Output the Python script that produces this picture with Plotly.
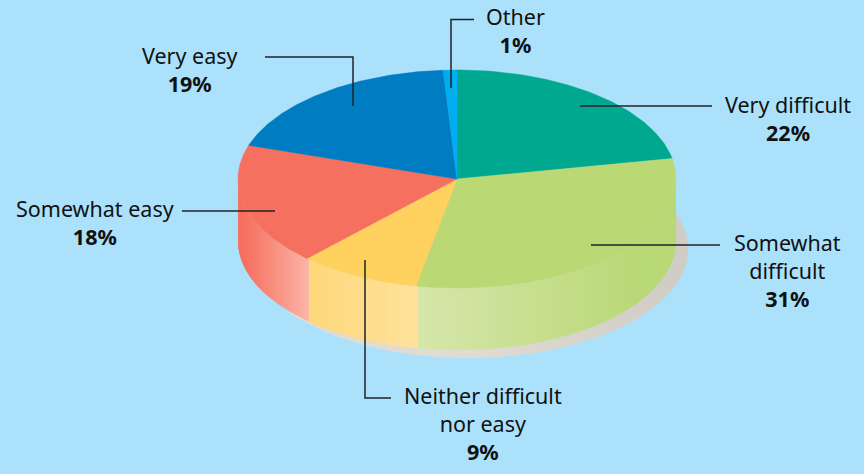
import numpy as np
import plotly.graph_objects as go

# --- data ---
categories = ["Very difficult", "Somewhat difficult", "Neither difficult nor easy",
              "Somewhat easy", "Very easy", "Other"]
values = [22, 31, 9, 18, 19, 1]
top_colors = ["#00A88F", "#BAD874", "#FFD15F", "#F6705F", "#007CC3", "#00AEEF"]

BG = "#ABE1FB"
CX, CY, RX, RY, DEPTH = 457, 179, 219, 109, 62
WALL_SHIFT = 0.011
FONT = "Noto Sans"
TXT = "#111111"


def hex2rgb(h):
    return np.array([int(h[i:i + 2], 16) for i in (1, 3, 5)], float)


def lerp(a, b, t):
    t = min(max(t, 0), 1)
    c = hex2rgb(a) * (1 - t) + hex2rgb(b) * t
    return "rgb(%d,%d,%d)" % tuple(c.round())


def ex(a):
    return CX + RX * np.sin(a)


def ey(a):
    return CY - RY * np.cos(a)


fig = go.Figure()


def poly(x, y, color, w=0):
    fig.add_trace(go.Scatter(x=list(x), y=list(y), mode="lines", fill="toself",
                             fillcolor=color, line=dict(color=color, width=w),
                             hoverinfo="skip", showlegend=False))


# shadow, cut in thin wedges so it can shade from light to darker
SX, SY, SRX, SRY = 468, 249, 220, 109
edges = np.linspace(np.pi * 0.3, np.pi * 1.3, 90)
for a0, a1 in zip(edges[:-1], edges[1:]):
    t = np.linspace(a0, a1 + 0.01, 4)
    xs = SX + SRX * np.sin(t)
    ys = SY - SRY * np.cos(t)
    mid = xs.mean()
    col = lerp("#E0DCD2", "#D0CDC6", (mid - 470) / 210)
    poly(list(xs) + [SX], list(ys) + [SY], col)

# side wall shading, per slice: colour at the left end and at the right end of its span
wall_shade = {
    "Somewhat difficult": ("#D6E6AA", "#B9D876", 418, 640),
    "Neither difficult nor easy": ("#FED87A", "#FEE19C", 310, 418),
    "Somewhat easy": ("#F6705F", "#FBB6A8", 245, 310),
}

cum = np.cumsum([0] + values) / sum(values) * 2 * np.pi
for i, cat in enumerate(categories):
    if cat not in wall_shade:
        continue
    a0 = max(cum[i] - WALL_SHIFT, np.pi / 2)
    a1 = min(cum[i + 1] - WALL_SHIFT, 3 * np.pi / 2)
    c0, c1, x0, x1 = wall_shade[cat]
    steps = np.linspace(a0, a1, 45)
    for s0, s1 in zip(steps[:-1], steps[1:]):
        s_end = s1 if s1 == a1 else s1 + (s1 - s0)
        t = np.array([s0, (s0 + s_end) / 2, s_end])
        xs, ys = ex(t), ey(t)
        col = lerp(c0, c1, (ex((s0 + s1) / 2) - x0) / (x1 - x0))
        poly(list(xs) + list(xs[::-1]), list(ys) + list(ys[::-1] + DEPTH), col)

# top face
for i, cat in enumerate(categories):
    t = np.linspace(cum[i], cum[i + 1], 80)
    poly([CX] + list(ex(t)) + [CX], [CY] + list(ey(t)) + [CY], top_colors[i], 0.5)

# leader lines
leaders = [
    ([474, 451, 451], [19.5, 19.5, 88]),
    ([265, 353, 353], [57, 57, 106]),
    ([580, 712], [106, 106]),
    ([591, 720], [245, 245]),
    ([182, 275], [211, 211]),
    ([365, 365, 391], [260, 398, 398]),
]
for lx, ly in leaders:
    fig.add_trace(go.Scatter(x=lx, y=ly, mode="lines", line=dict(color="#1F2326", width=1.5),
                             hoverinfo="skip", showlegend=False))

# labels: centre x, centre y of the block, wrapped name, index of the value (bold last line)
labels = [
    (515, 30, "Other", 5),
    (190, 69, "Very easy", 4),
    (788, 118, "Very difficult", 0),
    (787, 270.5, "Somewhat<br>difficult", 1),
    (95, 222.5, "Somewhat easy", 3),
    (483, 423, "Neither difficult<br>nor easy", 2),
]
for x, y, text, idx in labels:
    fig.add_annotation(x=x, y=y, text="%s<br><b>%d%%</b>" % (text, values[idx]), showarrow=False,
                       xanchor="center", yanchor="middle", align="center",
                       font=dict(family=FONT, size=21.5, color=TXT))

fig.update_layout(
    width=864, height=474, margin=dict(l=0, r=0, t=0, b=0),
    paper_bgcolor=BG, plot_bgcolor=BG, showlegend=False,
    xaxis=dict(range=[0, 864], visible=False, fixedrange=True),
    yaxis=dict(range=[474, 0], visible=False, fixedrange=True),
)
fig.write_html("out.html", config={"displayModeBar": False},
               post_script="document.body.style.margin='0';document.body.style.overflow='hidden';")
